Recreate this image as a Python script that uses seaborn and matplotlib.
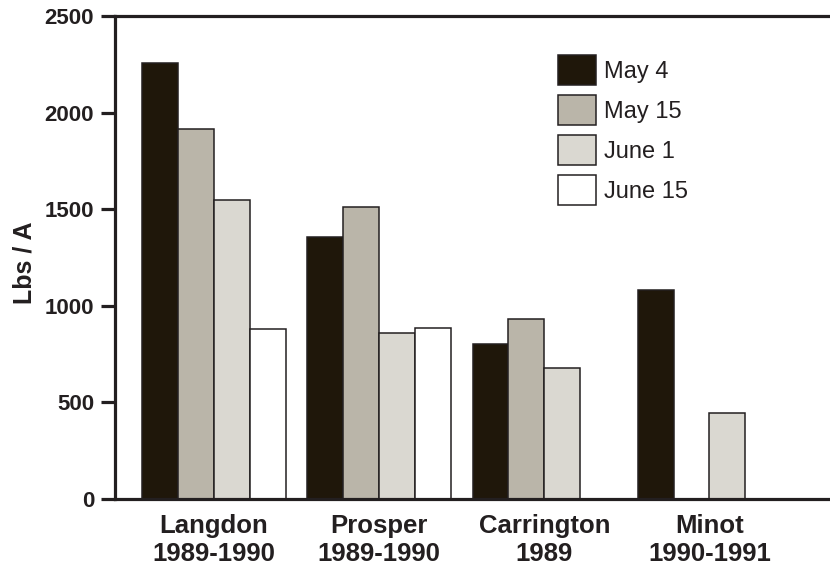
import pandas as pd
import seaborn as sns
import numpy as np
import matplotlib.pyplot as plt

# -------------------------------
# Data
# -------------------------------
sites = ['Langdon\n1989-1990', 'Prosper\n1989-1990', 'Carrington\n1989', 'Minot\n1990-1991']
dates = ['May 4', 'May 15', 'June 1', 'June 15']
may4 = [2255, 1355, 800, 1080]
may15 = [1915, 1510, 930, np.nan]
june1 = [1550, 860, 680, 445]
june15 = [880, 885, np.nan, np.nan]

colors = ['#221807', '#bdb6a6', '#dcd9cf', '#ffffff']
ink = '#231f20'

# long table for seaborn, dropping the missing plantings
df = pd.DataFrame({'May 4': may4, 'May 15': may15, 'June 1': june1, 'June 15': june15},
                  index=sites)
df = df.reset_index(names='site').melt(id_vars='site', var_name='date', value_name='lbs')
df = df.dropna()

# -------------------------------
# Plot
# -------------------------------
sns.set_theme(style='white')
plt.rcParams['font.family'] = ['Liberation Sans', 'DejaVu Sans']

fig = plt.figure(figsize=(8.3, 5.68), dpi=100)
ax = fig.add_axes([115 / 830, 69 / 568, 715 / 830, 483 / 568])

sns.barplot(data=df, x='site', y='lbs', hue='date', order=sites, hue_order=dates,
            palette=colors, width=0.87, edgecolor=ink, linewidth=1.1,
            errorbar=None, ax=ax)

ax.set_xlim(-0.6, 3.73)
ax.set_ylim(0, 2500)
ax.set_yticks([0, 500, 1000, 1500, 2000, 2500])
ax.set_xlabel('')
ax.set_ylabel('Lbs / A', fontsize=18, fontweight='bold', color=ink)
ax.yaxis.set_label_coords(-0.11, 0.49)

for side in ['left', 'bottom', 'top']:
    ax.spines[side].set_linewidth(2.3)
    ax.spines[side].set_color(ink)
ax.spines['right'].set_visible(False)

ax.tick_params(axis='y', which='major', direction='out', length=10, width=2.3,
               color=ink, pad=5, left=True, labelsize=16, labelcolor=ink)
ax.tick_params(axis='x', length=0, pad=11, labelsize=18.5, labelcolor=ink)
for lbl in ax.get_yticklabels() + ax.get_xticklabels():
    lbl.set_fontweight('bold')
for lbl in ax.get_xticklabels():
    lbl.set_linespacing(1.22)

ax.legend(loc='upper left', bbox_to_anchor=(558 / 830, 1 - 55 / 568),
          bbox_transform=fig.transFigure, frameon=False, fontsize=17,
          handlelength=1.61, handleheight=1.58, labelspacing=0.42,
          handletextpad=0.34, borderpad=0, borderaxespad=0, labelcolor=ink)

fig.savefig('out.png', dpi=100)
